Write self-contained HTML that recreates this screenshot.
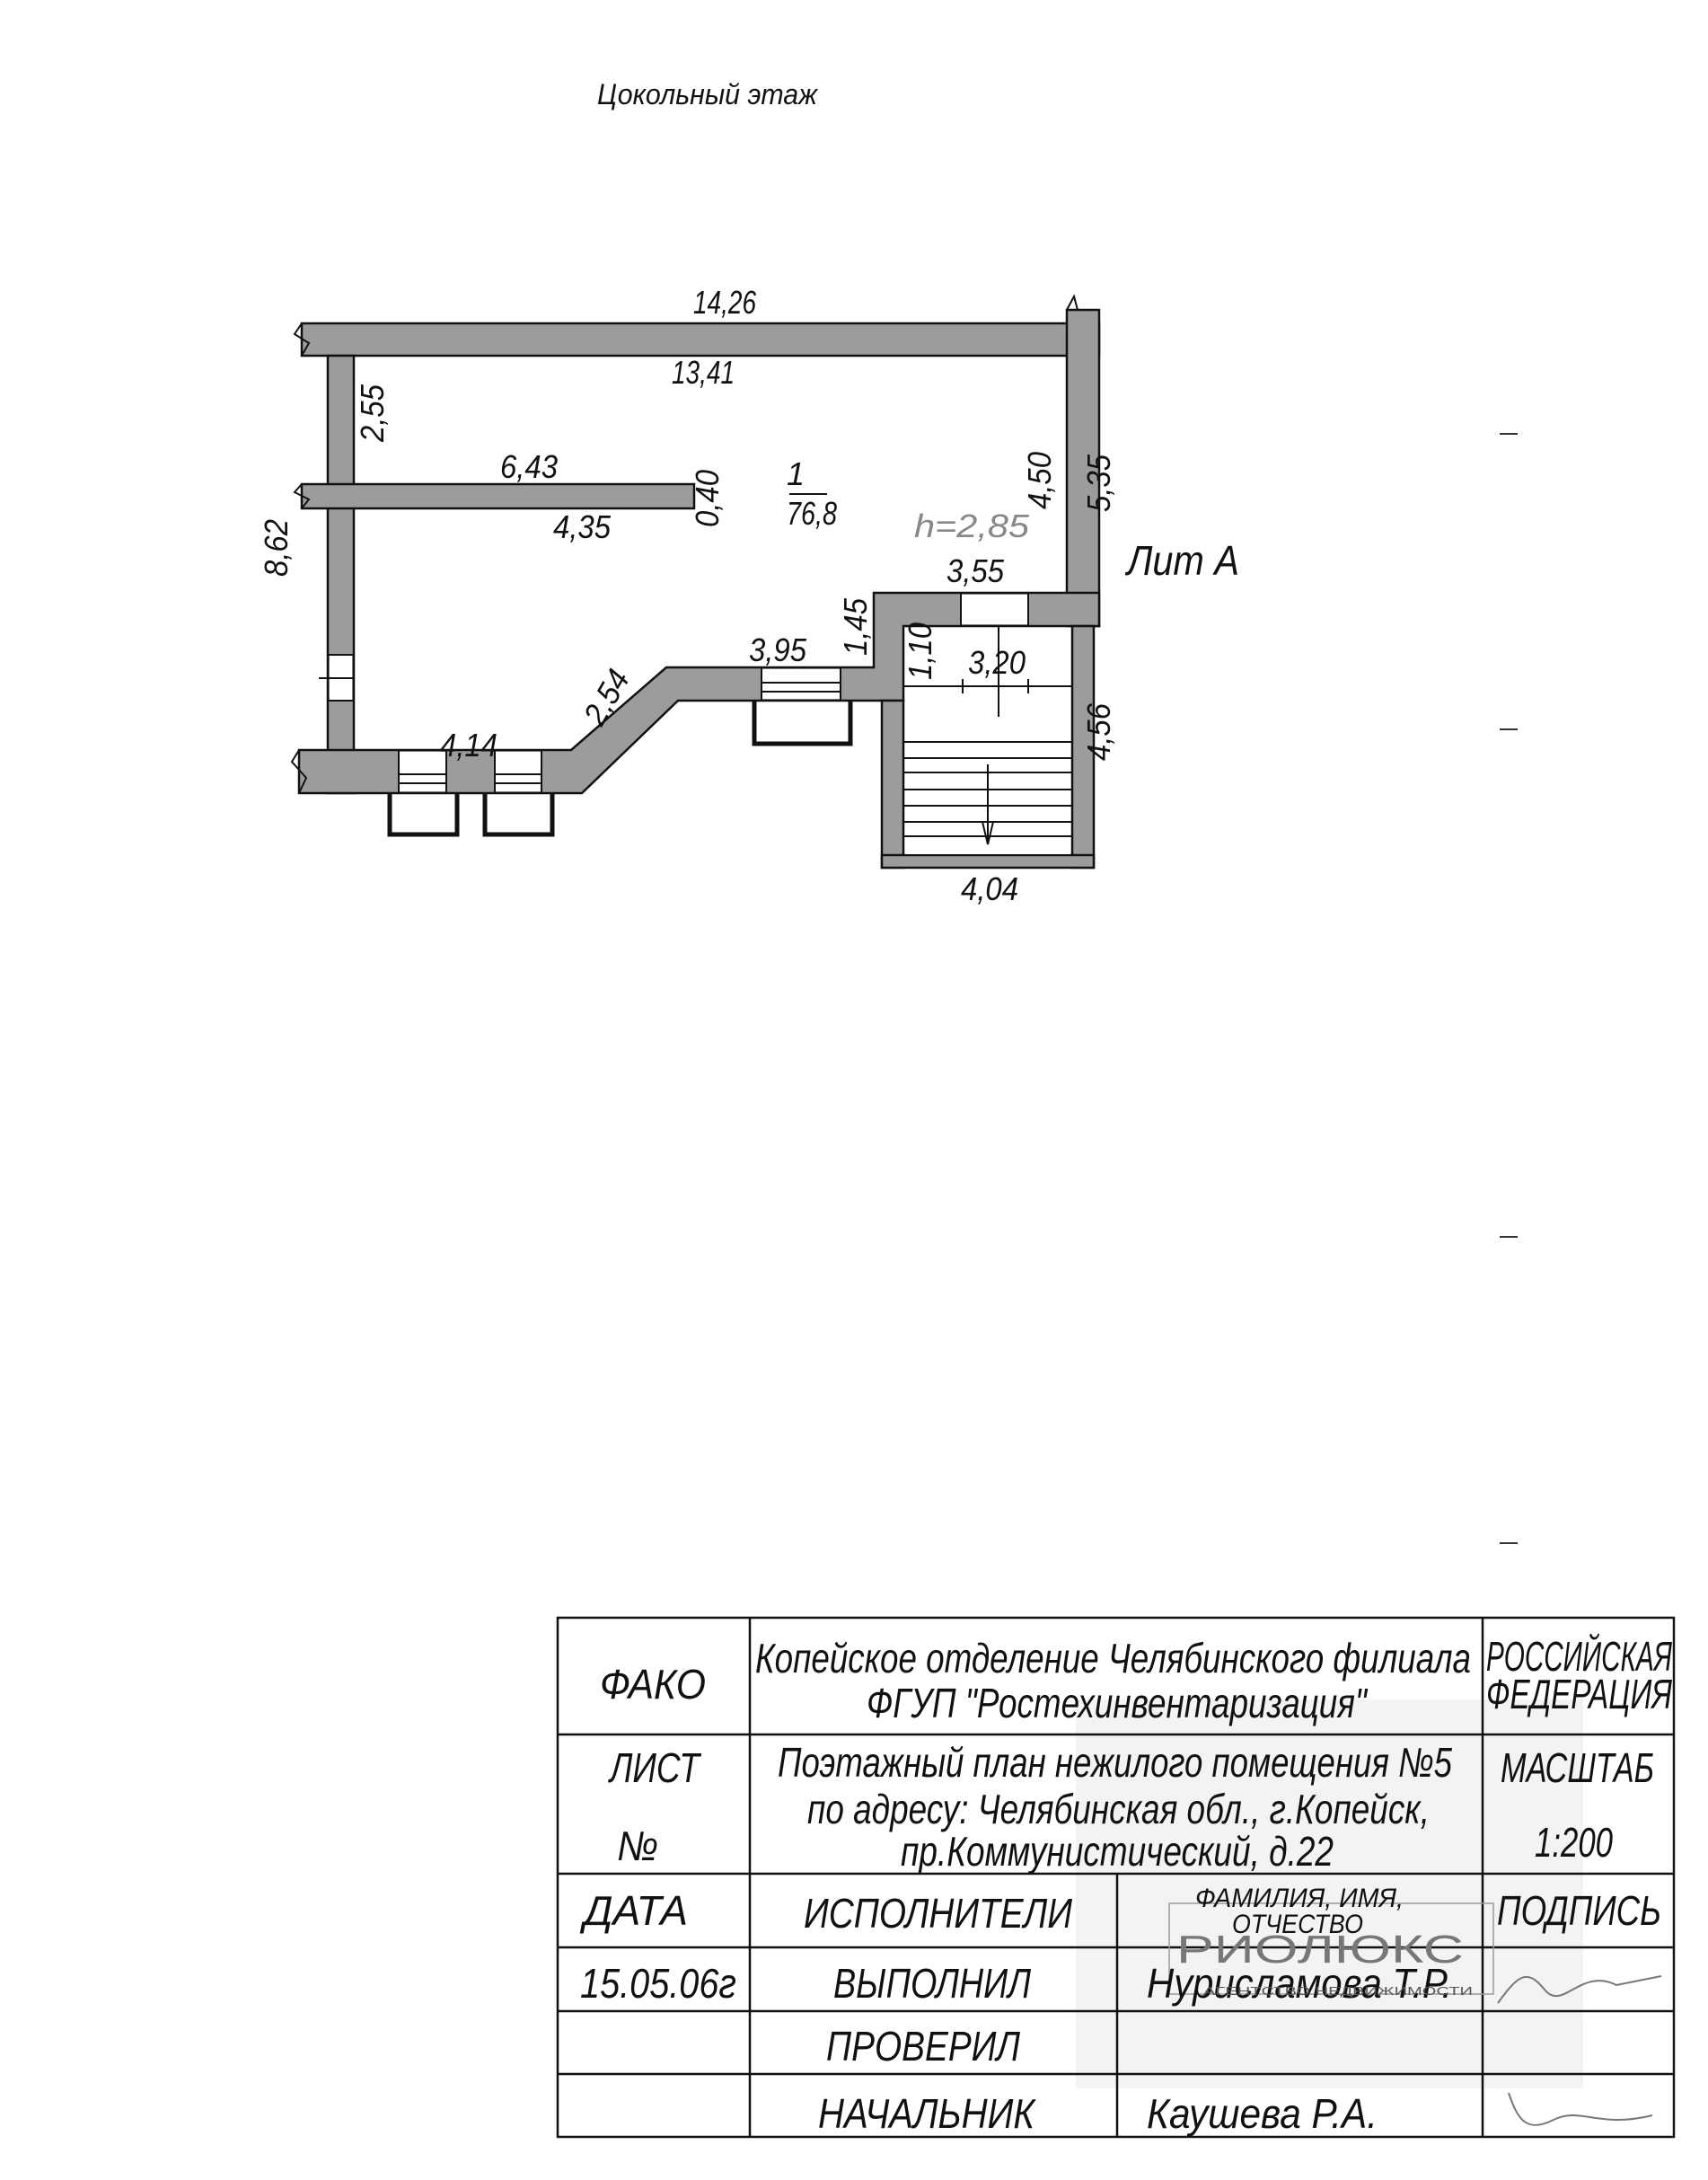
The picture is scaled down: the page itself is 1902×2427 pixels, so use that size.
<!DOCTYPE html>
<html><head><meta charset="utf-8"><style>
html,body{margin:0;padding:0;background:#fff;}
svg{display:block;}
text{font-family:"Liberation Sans",sans-serif;font-style:italic;fill:#111;}
</style></head><body>
<svg width="1902" height="2427" viewBox="0 0 1902 2427" xmlns="http://www.w3.org/2000/svg">
<rect width="1902" height="2427" fill="#fff"/>
<text x="665" y="116" font-size="32" textLength="245" lengthAdjust="spacingAndGlyphs">Цокольный этаж</text>

<g fill="#9c9c9c" stroke="#111" stroke-width="2.5">
<rect x="336" y="360" width="888" height="36"/>
<rect x="1188" y="345" width="36" height="352"/>
<rect x="365" y="396" width="29" height="487"/>
<rect x="336" y="539" width="437" height="27"/>
<polygon points="333,835 636,835 742,743 973,743 973,660 1224,660 1224,697 1006,697 1006,780 755,780 648,883 333,883"/>
<rect x="982" y="780" width="24" height="186"/>
<rect x="1194" y="697" width="24" height="269"/>
<rect x="982" y="952" width="236" height="14"/>
</g>
<g fill="#fff" stroke="none">
<rect x="396" y="398" width="790" height="139"/>
<rect x="396" y="568" width="790" height="90"/>
<rect x="396" y="568" width="240" height="265"/>
<rect x="1008" y="699" width="184" height="252"/>
<rect x="367" y="729" width="25" height="51"/>
<rect x="444" y="837" width="53" height="44"/>
<rect x="551" y="837" width="52" height="44"/>
<rect x="848" y="745" width="88" height="33"/>
<rect x="1070" y="662" width="75" height="33"/>
</g>
<g stroke="#111" stroke-width="2" fill="none">
<line x1="365" y1="729" x2="394" y2="729"/><line x1="365" y1="780" x2="394" y2="780"/><line x1="355" y1="755" x2="394" y2="755"/>
<line x1="444" y1="835" x2="444" y2="883"/><line x1="497" y1="835" x2="497" y2="883"/>
<line x1="444" y1="862" x2="497" y2="862"/><line x1="444" y1="872" x2="497" y2="872"/>
<line x1="551" y1="835" x2="551" y2="883"/><line x1="603" y1="835" x2="603" y2="883"/>
<line x1="551" y1="862" x2="603" y2="862"/><line x1="551" y1="872" x2="603" y2="872"/>
<line x1="848" y1="743" x2="848" y2="780"/><line x1="936" y1="743" x2="936" y2="780"/>
<line x1="848" y1="760" x2="936" y2="760"/><line x1="848" y1="770" x2="936" y2="770"/>
<line x1="1070" y1="660" x2="1070" y2="697"/><line x1="1145" y1="660" x2="1145" y2="697"/>
<line x1="1112" y1="697" x2="1112" y2="798"/>
<line x1="1006" y1="764" x2="1194" y2="764"/><line x1="1072" y1="756" x2="1072" y2="772"/><line x1="1145" y1="756" x2="1145" y2="772"/>
<line x1="1006" y1="826" x2="1194" y2="826"/><line x1="1006" y1="844" x2="1194" y2="844"/><line x1="1006" y1="860" x2="1194" y2="860"/>
<line x1="1006" y1="879" x2="1194" y2="879"/><line x1="1006" y1="897" x2="1194" y2="897"/><line x1="1006" y1="915" x2="1194" y2="915"/><line x1="1006" y1="931" x2="1194" y2="931"/>
<line x1="1100" y1="851" x2="1100" y2="940"/><polyline points="1094,915 1100,940 1106,915"/>
</g>
<g stroke="#111" stroke-width="5" fill="none">
<polyline points="434,883 434,929 509,929 509,883"/>
<polyline points="540,883 540,929 615,929 615,883"/>
<polyline points="840,780 840,828 947,828 947,780"/>
</g>
<g stroke="#111" stroke-width="2" fill="none">
<polyline points="336,360 328,372 344,382 336,396"/>
<polyline points="336,539 328,548 344,556 336,566"/>
<polyline points="333,835 325,848 341,866 333,883"/>
<polyline points="1188,345 1196,330 1200,345"/>
</g>

<g font-size="36">
<text x="772" y="349" textLength="70" lengthAdjust="spacingAndGlyphs">14,26</text>
<text x="748" y="427" textLength="70" lengthAdjust="spacingAndGlyphs">13,41</text>
<text x="557" y="532" textLength="64" lengthAdjust="spacingAndGlyphs">6,43</text>
<text x="616" y="599" textLength="64" lengthAdjust="spacingAndGlyphs">4,35</text>
<text x="886" y="540" text-anchor="middle">1</text>
<line x1="879" y1="550" x2="921" y2="550" stroke="#111" stroke-width="2"/>
<text x="876" y="584" textLength="56" lengthAdjust="spacingAndGlyphs">76,8</text>
<text x="1018" y="598" style="fill:#888" textLength="128" lengthAdjust="spacingAndGlyphs">h=2,85</text>
<text x="1054" y="648" textLength="64" lengthAdjust="spacingAndGlyphs">3,55</text>
<text x="834" y="736" textLength="64" lengthAdjust="spacingAndGlyphs">3,95</text>
<text x="1078" y="750" textLength="64" lengthAdjust="spacingAndGlyphs">3,20</text>
<text x="490" y="842" textLength="64" lengthAdjust="spacingAndGlyphs">4,14</text>
<text x="1070" y="1002" textLength="64" lengthAdjust="spacingAndGlyphs">4,04</text>
<text transform="translate(670,810) rotate(-60)" textLength="64" lengthAdjust="spacingAndGlyphs">2,54</text>
<text transform="translate(427,492) rotate(-90)" textLength="64" lengthAdjust="spacingAndGlyphs">2,55</text>
<text transform="translate(800,587) rotate(-90)" textLength="64" lengthAdjust="spacingAndGlyphs">0,40</text>
<text transform="translate(1170,567) rotate(-90)" textLength="64" lengthAdjust="spacingAndGlyphs">4,50</text>
<text transform="translate(1236,570) rotate(-90)" textLength="64" lengthAdjust="spacingAndGlyphs">5,35</text>
<text transform="translate(320,642) rotate(-90)" textLength="64" lengthAdjust="spacingAndGlyphs">8,62</text>
<text transform="translate(965,730) rotate(-90)" textLength="64" lengthAdjust="spacingAndGlyphs">1,45</text>
<text transform="translate(1037,757) rotate(-90)" textLength="64" lengthAdjust="spacingAndGlyphs">1,10</text>
<text transform="translate(1236,847) rotate(-90)" textLength="64" lengthAdjust="spacingAndGlyphs">4,56</text>
</g>
<text x="1255" y="640" font-size="46" textLength="125" lengthAdjust="spacingAndGlyphs">Лит А</text>
<g stroke="#333" stroke-width="2">
<line x1="1670" y1="483" x2="1690" y2="483"/><line x1="1670" y1="812" x2="1690" y2="812"/>
<line x1="1670" y1="1377" x2="1690" y2="1377"/><line x1="1670" y1="1718" x2="1690" y2="1718"/>
</g>

<rect x="1198" y="1892" width="565" height="433" fill="#f3f3f3"/>
<g stroke="#111" stroke-width="2.5" fill="none">
<rect x="621" y="1801" width="1243" height="578"/>
<line x1="835" y1="1801" x2="835" y2="2379"/>
<line x1="1651" y1="1801" x2="1651" y2="2379"/>
<line x1="1244" y1="2086" x2="1244" y2="2379"/>
<line x1="621" y1="1931" x2="1864" y2="1931"/>
<line x1="621" y1="2086" x2="1864" y2="2086"/>
<line x1="621" y1="2168" x2="1864" y2="2168"/>
<line x1="621" y1="2239" x2="1864" y2="2239"/>
<line x1="621" y1="2309" x2="1864" y2="2309"/>
</g>
<rect x="1302" y="2119" width="361" height="101" fill="none" stroke="#999" stroke-width="1.5"/>
<g font-size="46">
<text x="668" y="1891" textLength="118" lengthAdjust="spacingAndGlyphs">ФАКО</text>
<text x="841" y="1862" textLength="797" lengthAdjust="spacingAndGlyphs">Копейское отделение Челябинского филиала</text>
<text x="965" y="1912" textLength="557" lengthAdjust="spacingAndGlyphs">ФГУП "Ростехинвентаризация"</text>
<text x="1655" y="1860" textLength="207" lengthAdjust="spacingAndGlyphs">РОССИЙСКАЯ</text>
<text x="1655" y="1902" textLength="207" lengthAdjust="spacingAndGlyphs">ФЕДЕРАЦИЯ</text>
<text x="679" y="1984" textLength="100" lengthAdjust="spacingAndGlyphs">ЛИСТ</text>
<text x="687" y="2071" textLength="46" lengthAdjust="spacingAndGlyphs">№</text>
<text x="866" y="1978" textLength="751" lengthAdjust="spacingAndGlyphs">Поэтажный план нежилого помещения №5</text>
<text x="899" y="2030" textLength="693" lengthAdjust="spacingAndGlyphs">по адресу: Челябинская обл., г.Копейск,</text>
<text x="1003" y="2077" textLength="482" lengthAdjust="spacingAndGlyphs">пр.Коммунистический, д.22</text>
<text x="1671" y="1984" textLength="171" lengthAdjust="spacingAndGlyphs">МАСШТАБ</text>
<text x="1709" y="2067" textLength="87" lengthAdjust="spacingAndGlyphs">1:200</text>
<text x="650" y="2143" textLength="116" lengthAdjust="spacingAndGlyphs">ДАТА</text>
<text x="895" y="2146" textLength="299" lengthAdjust="spacingAndGlyphs">ИСПОЛНИТЕЛИ</text>
<text x="1667" y="2143" textLength="183" lengthAdjust="spacingAndGlyphs">ПОДПИСЬ</text>
<text x="646" y="2224" textLength="174" lengthAdjust="spacingAndGlyphs">15.05.06г</text>
<text x="928" y="2224" textLength="220" lengthAdjust="spacingAndGlyphs">ВЫПОЛНИЛ</text>
<text x="1277" y="2224" textLength="340" lengthAdjust="spacingAndGlyphs">Нурисламова Т.Р.</text>
<text x="920" y="2294" textLength="216" lengthAdjust="spacingAndGlyphs">ПРОВЕРИЛ</text>
<text x="911" y="2369" textLength="241" lengthAdjust="spacingAndGlyphs">НАЧАЛЬНИК</text>
<text x="1277" y="2369" textLength="257" lengthAdjust="spacingAndGlyphs">Каушева Р.А.</text>
</g>
<text x="1331" y="2123" font-size="30" textLength="232" lengthAdjust="spacingAndGlyphs">ФАМИЛИЯ, ИМЯ,</text>
<text x="1372" y="2152" font-size="30" textLength="146" lengthAdjust="spacingAndGlyphs">ОТЧЕСТВО</text>
<text x="1310" y="2185" font-size="44" style="font-style:normal;fill:#777" textLength="320" lengthAdjust="spacingAndGlyphs">РИОЛЮКС</text>
<text x="1340" y="2221" font-size="13" style="font-style:normal;fill:#555" textLength="300" lengthAdjust="spacingAndGlyphs">АГЕНТСТВО НЕДВИЖИМОСТИ</text>
<g stroke="#777" stroke-width="2" fill="none">
<path d="M1668,2230 C1690,2200 1700,2190 1720,2215 S1760,2190 1800,2210 L1850,2200"/>
<path d="M1680,2330 C1690,2360 1700,2375 1730,2360 S1780,2370 1840,2355"/>
</g>
</svg>
</body></html>
